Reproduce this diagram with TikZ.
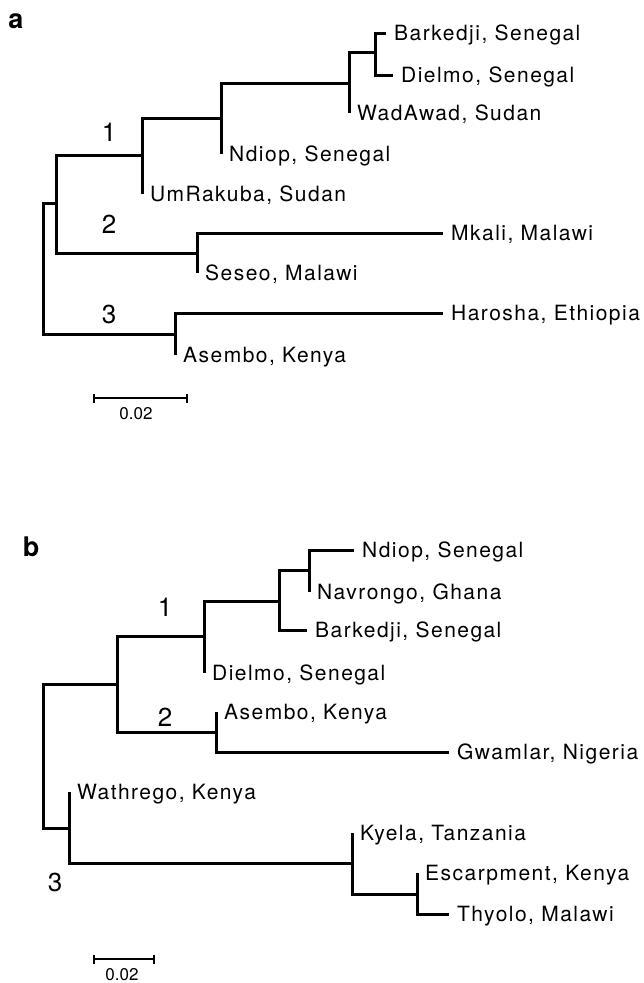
\documentclass[tikz,border=0pt]{standalone}
\usepackage{fontspec}
\setmainfont{TeX Gyre Heros}
\newfontfamily\leaffont[LetterSpace=7]{TeX Gyre Heros}
\usetikzlibrary{arrows.meta}
\tikzset{
    branch/.style={line width=3pt},
    leaf/.style={anchor=west, inner xsep=8pt, inner ysep=0pt, text height=15pt, text depth=0pt, font=\fontsize{21}{21}\leaffont},
    clade/.style={font=\fontsize{26}{26}\selectfont},
    panel/.style={font=\fontsize{27}{27}\selectfont\bfseries},
    scalebar/.style={line width=1.8pt, {Bar[width=9pt]}-{Bar[width=9pt]}},
    scalelabel/.style={font=\fontsize{17}{17}\selectfont}
}
\begin{document}
\begin{tikzpicture}[x=1pt, y=-1pt]
    \useasboundingbox (0,0) rectangle (643,983);

    % panel a
    \node (p_a) [panel] at (16,21) {a};
    \coordinate (a_root) at (43,268);
    \coordinate (a_n12) at (56,203);
    \coordinate (a_n1) at (142,155);
    \coordinate (a_n1a) at (221,118);
    \coordinate (a_n1b) at (349,83);
    \coordinate (a_n1c) at (375,52);
    \coordinate (a_n2) at (197,253);
    \coordinate (a_n3) at (175,334);

    \node (a_barkedji) [leaf] at (386,33) {Barkedji, Senegal};
    \node (a_dielmo) [leaf] at (393,75) {Dielmo, Senegal};
    \node (a_wadawad) [leaf] at (349,113) {WadAwad, Sudan};
    \node (a_ndiop) [leaf] at (221,154) {Ndiop, Senegal};
    \node (a_umrakuba) [leaf] at (142,194) {UmRakuba, Sudan};
    \node (a_mkali) [leaf] at (443,233) {Mkali, Malawi};
    \node (a_seseo) [leaf] at (197,273) {Seseo, Malawi};
    \node (a_harosha) [leaf] at (443,313) {Harosha, Ethiopia};
    \node (a_asembo) [leaf] at (175,355) {Asembo, Kenya};

    \draw[branch] (a_root) |- (a_n12);
    \draw[branch] (a_root) |- (a_n3);
    \draw[branch] (a_n12) |- (a_n1);
    \draw[branch] (a_n12) |- (a_n2);
    \draw[branch] (a_n1) |- (a_n1a);
    \draw[branch] (a_n1) |- (a_umrakuba.west);
    \draw[branch] (a_n1a) |- (a_n1b);
    \draw[branch] (a_n1a) |- (a_ndiop.west);
    \draw[branch] (a_n1b) |- (a_n1c);
    \draw[branch] (a_n1b) |- (a_wadawad.west);
    \draw[branch] (a_n1c) |- (a_barkedji.west);
    \draw[branch] (a_n1c) |- (a_dielmo.west);
    \draw[branch] (a_n2) |- (a_mkali.west);
    \draw[branch] (a_n2) |- (a_seseo.west);
    \draw[branch] (a_n3) |- (a_harosha.west);
    \draw[branch] (a_n3) |- (a_asembo.west);

    \node (a_c1) [clade] at (109,132) {1};
    \node (a_c2) [clade] at (109,224) {2};
    \node (a_c3) [clade] at (109,314) {3};

    \coordinate (a_s0) at (93,398);
    \coordinate (a_s1) at (188,398);
    \draw[scalebar] (a_s0) -- (a_s1);
    \node (a_scale) [scalelabel] at (136,414) {0.02};

    % panel b
    \node (p_b) [panel] at (31,547) {b};
    \coordinate (b_root) at (43,756);
    \coordinate (b_n12) at (117,684);
    \coordinate (b_n1) at (204,636);
    \coordinate (b_n1a) at (279,601);
    \coordinate (b_n1b) at (309,570);
    \coordinate (b_n2) at (216,732);
    \coordinate (b_n3) at (69,828);
    \coordinate (b_n3a) at (352,863);
    \coordinate (b_n3b) at (417,894);

    \node (b_ndiop) [leaf] at (354,550) {Ndiop, Senegal};
    \node (b_navrongo) [leaf] at (309,592) {Navrongo, Ghana};
    \node (b_barkedji) [leaf] at (307,630) {Barkedji, Senegal};
    \node (b_dielmo) [leaf] at (204,673) {Dielmo, Senegal};
    \node (b_asembo) [leaf] at (216,712) {Asembo, Kenya};
    \node (b_gwamlar) [leaf] at (449,752) {Gwamlar, Nigeria};
    \node (b_wathrego) [leaf] at (69,792) {Wathrego, Kenya};
    \node (b_kyela) [leaf] at (352,833) {Kyela, Tanzania};
    \node (b_escarpment) [leaf] at (417,873) {Escarpment, Kenya};
    \node (b_thyolo) [leaf] at (449,914) {Thyolo, Malawi};

    \draw[branch] (b_root) |- (b_n12);
    \draw[branch] (b_root) |- (b_n3);
    \draw[branch] (b_n12) |- (b_n1);
    \draw[branch] (b_n12) |- (b_n2);
    \draw[branch] (b_n1) |- (b_n1a);
    \draw[branch] (b_n1) |- (b_dielmo.west);
    \draw[branch] (b_n1a) |- (b_n1b);
    \draw[branch] (b_n1a) |- (b_barkedji.west);
    \draw[branch] (b_n1b) |- (b_ndiop.west);
    \draw[branch] (b_n1b) |- (b_navrongo.west);
    \draw[branch] (b_n2) |- (b_asembo.west);
    \draw[branch] (b_n2) |- (b_gwamlar.west);
    \draw[branch] (b_n3) |- (b_wathrego.west);
    \draw[branch] (b_n3) |- (b_n3a);
    \draw[branch] (b_n3a) |- (b_kyela.west);
    \draw[branch] (b_n3a) |- (b_n3b);
    \draw[branch] (b_n3b) |- (b_escarpment.west);
    \draw[branch] (b_n3b) |- (b_thyolo.west);

    \node (b_c1) [clade] at (165,607) {1};
    \node (b_c2) [clade] at (165,717) {2};
    \node (b_c3) [clade] at (55,882) {3};

    \coordinate (b_s0) at (93,959);
    \coordinate (b_s1) at (155,959);
    \draw[scalebar] (b_s0) -- (b_s1);
    \node (b_scale) [scalelabel] at (122,975) {0.02};
\end{tikzpicture}
\end{document}
